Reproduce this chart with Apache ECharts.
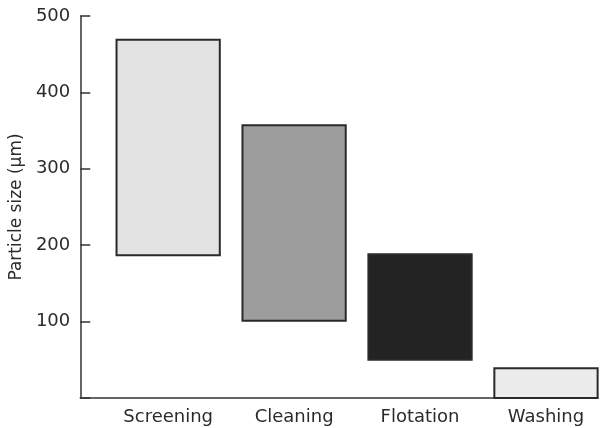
<!DOCTYPE html>
<html>
<head>
<meta charset="utf-8">
<script src="https://cdn.jsdelivr.net/npm/echarts@6/dist/echarts.min.js"></script>
<style>html,body{margin:0;padding:0;background:#fff;}#c{width:601px;height:428px;}</style>
</head>
<body>
<div id="c"></div>
<script>
var categories = ['Screening', 'Cleaning', 'Flotation', 'Washing'];
var lowValues = [187, 101, 50, 0];
var highValues = [469, 357, 188, 39];
var fillColors = ['#e3e3e3', '#9d9d9d', '#232323', '#ececec'];
var yTicks = [100, 200, 300, 400, 500];

var chart = echarts.init(document.getElementById('c'), null, {renderer: 'canvas'});
var data = categories.map(function (c, i) { return [i, lowValues[i], highValues[i]]; });
var FONT = 'DejaVu Sans';
chart.setOption({
  animation: false,
  backgroundColor: '#ffffff',
  grid: {left: 80, right: 3, top: 16, bottom: 30},
  xAxis: {
    type: 'value', min: -0.698, max: 3.413,
    splitLine: {show: false},
    axisLine: {show: true, onZero: false, lineStyle: {color: '#333', width: 1.5}},
    axisTick: {show: false},
    axisLabel: {
      customValues: [0, 1, 2, 3],
      formatter: function (v) { return categories[Math.round(v)] || ''; },
      color: '#2b2b2b', fontFamily: FONT, fontSize: 18, margin: 10
    }
  },
  yAxis: {
    type: 'value', min: 0, max: 500, interval: 100,
    name: 'Particle size (\u00b5m)', nameLocation: 'middle', nameGap: 48,
    nameTextStyle: {color: '#2b2b2b', fontFamily: FONT, fontSize: 17},
    splitLine: {show: false},
    axisLine: {show: true, onZero: false, lineStyle: {color: '#333', width: 1.5}},
    axisTick: {show: true, inside: true, length: 10, lineStyle: {color: '#333', width: 1.5}},
    axisLabel: {
      formatter: function (v) { return yTicks.indexOf(v) >= 0 ? String(v) : ''; },
      color: '#2b2b2b', fontFamily: FONT, fontSize: 18, margin: 10
    }
  },
  series: [{
    type: 'custom',
    data: data,
    encode: {x: 0, y: [1, 2]},
    renderItem: function (params, api) {
      var i = api.value(0);
      var p1 = api.coord([i - 0.41, api.value(2)]);
      var p2 = api.coord([i + 0.41, api.value(1)]);
      return {
        type: 'rect',
        shape: {x: p1[0], y: p1[1], width: p2[0] - p1[0], height: p2[1] - p1[1]},
        style: {fill: fillColors[i], stroke: '#2a2a2a', lineWidth: 2}
      };
    }
  }]
});
</script>
</body>
</html>
